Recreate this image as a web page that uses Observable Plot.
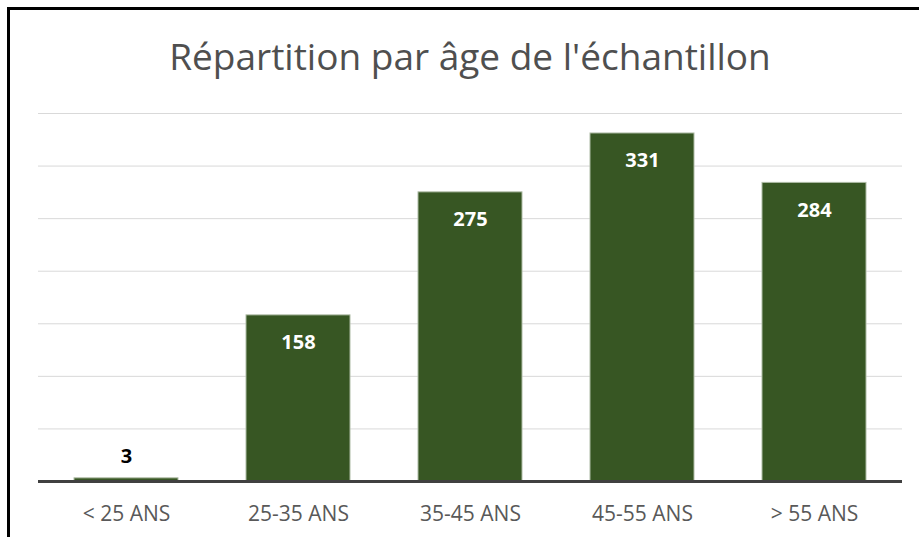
<!DOCTYPE html>
<html>
<head>
<meta charset="utf-8">
<script src="https://cdn.jsdelivr.net/npm/d3@7"></script>
<script src="https://cdn.jsdelivr.net/npm/@observablehq/plot@0.6"></script>
<style>
  html, body { margin: 0; padding: 0; background: #fff; }
  #wrap { position: relative; width: 919px; height: 537px; overflow: hidden; background: #fff; font-family: "Open Sans", sans-serif; }
  #title { position: absolute; left: 38px; width: 864px; top: 0; height: 80px; text-align: center;
           font-size: 37px; line-height: 37px; color: #4f4f4f; padding-top: 37px; box-sizing: border-box; white-space: nowrap; }
  #chart { position: absolute; left: 0; top: 80px; }
  #frame { position: absolute; left: 7px; top: 7px; width: 2000px; height: 2000px;
           border-top: 3px solid #000; border-left: 3px solid #000; pointer-events: none; }
</style>
</head>
<body>
<div id="wrap">
  <div id="title">Répartition par âge de l'échantillon</div>
  <div id="chart"></div>
  <div id="frame"></div>
</div>
<script>
const categories = ["< 25 ANS", "25-35 ANS", "35-45 ANS", "45-55 ANS", "> 55 ANS"];
const values = [3, 158, 275, 331, 284];
const gridTicks = [50, 100, 150, 200, 250, 300, 350];

const data = categories.map((c, i) => ({category: c, value: values[i]}));
const inside = data.filter(d => d.value >= 20);
const outside = data.filter(d => d.value < 20);

const chart = Plot.plot({
  width: 919,
  height: 457,
  marginLeft: 38,
  marginRight: 17,
  marginTop: 33,
  marginBottom: 56,
  style: {fontFamily: "'Open Sans', sans-serif", background: "transparent"},
  x: {domain: categories, paddingInner: 0.394, paddingOuter: 0.197, label: null},
  y: {domain: [0, 350], axis: null},
  marks: [
    Plot.ruleY(gridTicks, {stroke: "#d9d9d9", strokeWidth: 1}),
    Plot.barY(data, {x: "category", y: "value", fill: "#375623", stroke: "#aebba5", strokeWidth: 1}),
    Plot.ruleY([0], {stroke: "#404040", strokeWidth: 3}),
    Plot.text(inside, {x: "category", y: "value", text: d => String(d.value), dy: 27.5,
      fill: "#ffffff", fontSize: 20, fontWeight: "bold"}),
    Plot.text(outside, {x: "category", y: "value", text: d => String(d.value), dy: -21.5,
      fill: "#000000", fontSize: 20, fontWeight: "bold"}),
    Plot.axisX({tickSize: 0, tickPadding: 25, fontSize: 21, fill: "#595959", label: null})
  ]
});
chart.style.fontSize = "21px";
document.getElementById("chart").appendChild(chart);
</script>
</body>
</html>
